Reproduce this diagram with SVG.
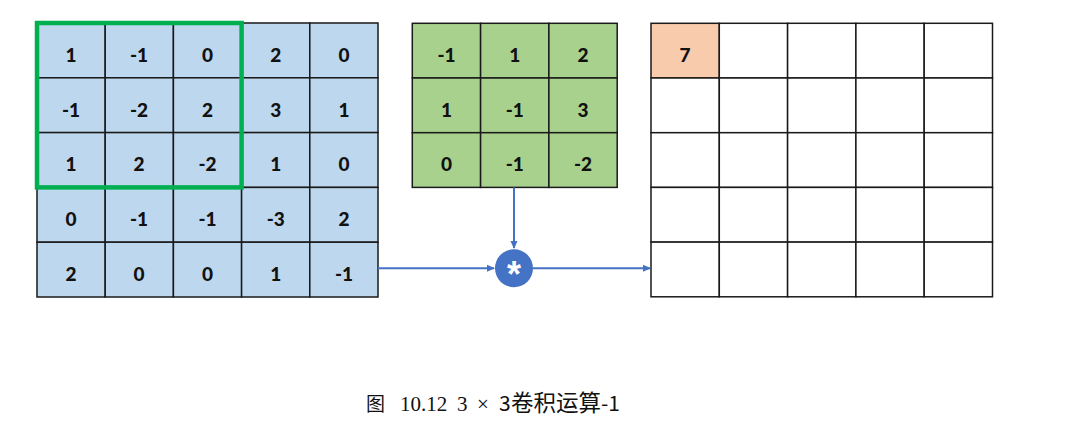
<svg xmlns="http://www.w3.org/2000/svg" width="1085" height="424" viewBox="0 0 1085 424">
<style>
.cell{stroke:#1a1a1a;stroke-width:1.5}
.in{fill:#BDD7EE}
.k{fill:#A9D18E}
.o{fill:#ffffff}
.hl{fill:#F8CBAD}
.num{font-family:Lato,"Liberation Sans",sans-serif;font-weight:900;font-size:19px;fill:#111;text-anchor:middle;dominant-baseline:central}
.conn{stroke:#4472C4;stroke-width:2;fill:none}
.cap{font-family:"Liberation Serif","Noto Sans CJK SC",serif;font-size:21px;fill:#111}
.capc{font-family:"Noto Sans CJK SC",sans-serif;fill:#111}
</style>
<defs>
<marker id="ah" markerWidth="8" markerHeight="8" refX="7" refY="4" orient="auto" markerUnits="userSpaceOnUse">
<path d="M0,0.5 L8,4 L0,7.5 Z" fill="#4472C4"/>
</marker>
</defs>
<rect width="1085" height="424" fill="#ffffff"/>
<g id="input">
<g class="in cell">
<rect x="37" y="23" width="68.2" height="54.8"/><rect x="105.2" y="23" width="68.2" height="54.8"/><rect x="173.4" y="23" width="68.2" height="54.8"/><rect x="241.6" y="23" width="68.2" height="54.8"/><rect x="309.8" y="23" width="68.2" height="54.8"/>
<rect x="37" y="77.8" width="68.2" height="54.8"/><rect x="105.2" y="77.8" width="68.2" height="54.8"/><rect x="173.4" y="77.8" width="68.2" height="54.8"/><rect x="241.6" y="77.8" width="68.2" height="54.8"/><rect x="309.8" y="77.8" width="68.2" height="54.8"/>
<rect x="37" y="132.6" width="68.2" height="54.8"/><rect x="105.2" y="132.6" width="68.2" height="54.8"/><rect x="173.4" y="132.6" width="68.2" height="54.8"/><rect x="241.6" y="132.6" width="68.2" height="54.8"/><rect x="309.8" y="132.6" width="68.2" height="54.8"/>
<rect x="37" y="187.4" width="68.2" height="54.8"/><rect x="105.2" y="187.4" width="68.2" height="54.8"/><rect x="173.4" y="187.4" width="68.2" height="54.8"/><rect x="241.6" y="187.4" width="68.2" height="54.8"/><rect x="309.8" y="187.4" width="68.2" height="54.8"/>
<rect x="37" y="242.2" width="68.2" height="54.8"/><rect x="105.2" y="242.2" width="68.2" height="54.8"/><rect x="173.4" y="242.2" width="68.2" height="54.8"/><rect x="241.6" y="242.2" width="68.2" height="54.8"/><rect x="309.8" y="242.2" width="68.2" height="54.8"/>
</g>
<g class="num">
<text x="71" y="54">1</text><text x="139" y="54">-1</text><text x="207.5" y="54">0</text><text x="275.7" y="54">2</text><text x="344" y="54">0</text>
<text x="71" y="109">-1</text><text x="139" y="109">-2</text><text x="207.5" y="109">2</text><text x="275.7" y="109">3</text><text x="344" y="109">1</text>
<text x="71" y="163.5">1</text><text x="139" y="163.5">2</text><text x="207.5" y="163.5">-2</text><text x="275.7" y="163.5">1</text><text x="344" y="163.5">0</text>
<text x="71" y="218.5">0</text><text x="139" y="218.5">-1</text><text x="207.5" y="218.5">-1</text><text x="275.7" y="218.5">-3</text><text x="344" y="218.5">2</text>
<text x="71" y="273">2</text><text x="139" y="273">0</text><text x="207.5" y="273">0</text><text x="275.7" y="273">1</text><text x="344" y="273">-1</text>
</g>
</g>
<g id="window">
<rect x="37" y="23" width="204.6" height="164.4" fill="none" stroke="#00B050" stroke-width="4.5"/>
</g>
<g id="kernel">
<g class="k cell">
<rect x="412.3" y="23.3" width="68.3" height="54.7"/><rect x="480.6" y="23.3" width="68.3" height="54.7"/><rect x="548.9" y="23.3" width="68.3" height="54.7"/>
<rect x="412.3" y="78" width="68.3" height="54.7"/><rect x="480.6" y="78" width="68.3" height="54.7"/><rect x="548.9" y="78" width="68.3" height="54.7"/>
<rect x="412.3" y="132.7" width="68.3" height="54.7"/><rect x="480.6" y="132.7" width="68.3" height="54.7"/><rect x="548.9" y="132.7" width="68.3" height="54.7"/>
</g>
<g class="num">
<text x="446.5" y="54">-1</text><text x="514.8" y="54">1</text><text x="583" y="54">2</text>
<text x="446.5" y="109">1</text><text x="514.8" y="109">-1</text><text x="583" y="109">3</text>
<text x="446.5" y="163.5">0</text><text x="514.8" y="163.5">-1</text><text x="583" y="163.5">-2</text>
</g>
</g>
<g id="output">
<g class="o cell">
<rect x="651" y="23.3" width="68.3" height="54.7" class="hl"/><rect x="719.3" y="23.3" width="68.3" height="54.7"/><rect x="787.6" y="23.3" width="68.3" height="54.7"/><rect x="855.9" y="23.3" width="68.3" height="54.7"/><rect x="924.2" y="23.3" width="68.3" height="54.7"/>
<rect x="651" y="78" width="68.3" height="54.7"/><rect x="719.3" y="78" width="68.3" height="54.7"/><rect x="787.6" y="78" width="68.3" height="54.7"/><rect x="855.9" y="78" width="68.3" height="54.7"/><rect x="924.2" y="78" width="68.3" height="54.7"/>
<rect x="651" y="132.7" width="68.3" height="54.7"/><rect x="719.3" y="132.7" width="68.3" height="54.7"/><rect x="787.6" y="132.7" width="68.3" height="54.7"/><rect x="855.9" y="132.7" width="68.3" height="54.7"/><rect x="924.2" y="132.7" width="68.3" height="54.7"/>
<rect x="651" y="187.4" width="68.3" height="54.7"/><rect x="719.3" y="187.4" width="68.3" height="54.7"/><rect x="787.6" y="187.4" width="68.3" height="54.7"/><rect x="855.9" y="187.4" width="68.3" height="54.7"/><rect x="924.2" y="187.4" width="68.3" height="54.7"/>
<rect x="651" y="242.1" width="68.3" height="54.7"/><rect x="719.3" y="242.1" width="68.3" height="54.7"/><rect x="787.6" y="242.1" width="68.3" height="54.7"/><rect x="855.9" y="242.1" width="68.3" height="54.7"/><rect x="924.2" y="242.1" width="68.3" height="54.7"/>
</g>
<text class="num" x="685" y="54">7</text>
</g>
<g id="operator">
<circle cx="514" cy="268.3" r="19" fill="#4472C4"/>
<text x="514" y="286.5" font-family="'Liberation Sans',sans-serif" font-weight="bold" font-size="36" fill="#ffffff" text-anchor="middle">*</text>
</g>
<g id="connectors">
<line class="conn" x1="378" y1="268.3" x2="494" y2="268.3" marker-end="url(#ah)"/>
<line class="conn" x1="514" y1="187.4" x2="514" y2="248" marker-end="url(#ah)"/>
<line class="conn" x1="533" y1="268.3" x2="650" y2="268.3" marker-end="url(#ah)"/>
</g>
<g id="caption">
<text class="capc" x="366" y="411" font-size="19">图</text>
<text class="cap" x="400" y="411">10.12</text>
<text class="cap" x="457" y="411">3</text>
<text class="cap" x="477" y="411">×</text>
<text class="capc" x="499" y="411" font-size="21">3</text>
<text class="capc" x="511" y="411" font-size="22.5">卷积运算</text>
<text class="capc" x="601" y="411" font-size="21">-1</text>
</g>
</svg>
